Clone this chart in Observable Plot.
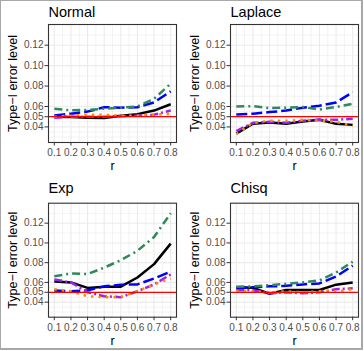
<!DOCTYPE html>
<html><head><meta charset="utf-8">
<script src="https://cdn.jsdelivr.net/npm/d3@7"></script>
<script src="https://cdn.jsdelivr.net/npm/@observablehq/plot@0.6"></script>
<style>
html,body{margin:0;padding:0;background:#fff;}
#wrap{position:relative;width:364px;height:351px;overflow:hidden;font-family:"Liberation Sans",Arial,Helvetica,sans-serif;}
#frame{position:absolute;left:0;top:0;width:363px;height:350px;box-sizing:border-box;border:1px solid #a8a8a8;border-right-width:2px;border-bottom-width:2px;pointer-events:none;}
.panel{position:absolute;}
</style></head><body><div id="wrap"></div>
<script>
const rValues = [0.1, 0.2, 0.3, 0.4, 0.5, 0.6, 0.7, 0.8];
const panelTitles = ["Normal", "Laplace", "Exp", "Chisq"];
const xTicks = [0.1, 0.2, 0.3, 0.4, 0.5, 0.6, 0.7, 0.8];
const xMinor = [0.15, 0.25, 0.35, 0.45, 0.55, 0.65, 0.75];
const yTicks = [0.04, 0.05, 0.06, 0.08, 0.10, 0.12];
const yMinor = [0.03, 0.035, 0.045, 0.055, 0.07, 0.09, 0.11, 0.13, 0.14];
const nominalLevel = 0.05;
const yLabel = "Type\u2212I error level";
const xLabel = "r";

const normalBlack  = [0.0500, 0.0498, 0.0490, 0.0487, 0.0510, 0.0525, 0.0560, 0.0622];
const normalBlue   = [0.0513, 0.0530, 0.0550, 0.0593, 0.0588, 0.0592, 0.0640, 0.0748];
const normalGreen  = [0.0578, 0.0562, 0.0567, 0.0578, 0.0588, 0.0600, 0.0676, 0.0823];
const normalPurple = [0.0490, 0.0500, 0.0500, 0.0500, 0.0505, 0.0510, 0.0520, 0.0560];
const normalOrange = [0.0500, 0.0510, 0.0520, 0.0520, 0.0510, 0.0510, 0.0520, 0.0530];

const laplaceBlack  = [0.0335, 0.0432, 0.0443, 0.0432, 0.0454, 0.0470, 0.0430, 0.0420];
const laplaceBlue   = [0.0522, 0.0530, 0.0545, 0.0560, 0.0588, 0.0608, 0.0640, 0.0740];
const laplaceGreen  = [0.0601, 0.0604, 0.0584, 0.0588, 0.0594, 0.0570, 0.0595, 0.0627];
const laplacePurple = [0.0360, 0.0440, 0.0450, 0.0440, 0.0460, 0.0470, 0.0470, 0.0480];
const laplaceOrange = [0.0330, 0.0440, 0.0460, 0.0460, 0.0470, 0.0460, 0.0450, 0.0410];

const expBlack  = [0.0610, 0.0600, 0.0544, 0.0557, 0.0557, 0.0650, 0.0785, 0.0993];
const expBlue   = [0.0517, 0.0510, 0.0520, 0.0560, 0.0576, 0.0580, 0.0640, 0.0710];
const expGreen  = [0.0663, 0.0690, 0.0685, 0.0750, 0.0825, 0.0920, 0.1060, 0.1300];
const expPurple = [0.0630, 0.0600, 0.0500, 0.0460, 0.0450, 0.0510, 0.0580, 0.0680];
const expOrange = [0.0530, 0.0510, 0.0460, 0.0450, 0.0450, 0.0510, 0.0580, 0.0640];

const chisqBlack  = [0.0550, 0.0545, 0.0485, 0.0523, 0.0523, 0.0523, 0.0577, 0.0600];
const chisqBlue   = [0.0540, 0.0550, 0.0560, 0.0565, 0.0580, 0.0590, 0.0660, 0.0770];
const chisqGreen  = [0.0557, 0.0560, 0.0573, 0.0585, 0.0600, 0.0620, 0.0700, 0.0810];
const chisqPurple = [0.0520, 0.0520, 0.0490, 0.0500, 0.0490, 0.0500, 0.0530, 0.0540];
const chisqOrange = [0.0510, 0.0510, 0.0500, 0.0510, 0.0500, 0.0510, 0.0510, 0.0530];

const panelSeries = [
  [normalBlack, normalBlue, normalGreen, normalPurple, normalOrange],
  [laplaceBlack, laplaceBlue, laplaceGreen, laplacePurple, laplaceOrange],
  [expBlack, expBlue, expGreen, expPurple, expOrange],
  [chisqBlack, chisqBlue, chisqGreen, chisqPurple, chisqOrange]
];

const lineStyles = [
  {stroke: "#000000", dash: null},
  {stroke: "#0000FF", dash: "11,4"},
  {stroke: "#2E8B57", dash: "8,4,2,4"},
  {stroke: "#A020F0", dash: "8,3,2,3"},
  {stroke: "#FF8C00", dash: "2.5,5"}
];

const boxes = [
  {left: 0,   top: 0,   h: 175, mt: 24,   mb: 33,   titleDy: -7.3, rDy: 23},
  {left: 182, top: 0,   h: 175, mt: 24,   mb: 33,   titleDy: -7.3, rDy: 23},
  {left: 0,   top: 175, h: 176, mt: 27.7, mb: 34.3, titleDy: -10,  rDy: 23.5},
  {left: 182, top: 175, h: 176, mt: 27.7, mb: 34.3, titleDy: -10,  rDy: 23.5}
];

const font = "'Liberation Sans', Arial, Helvetica, sans-serif";
const wrap = document.getElementById("wrap");

panelTitles.forEach((title, p) => {
  const box = boxes[p];
  const lineMarks = panelSeries[p].map((vals, s) => {
    const rows = rValues.map((r, i) => ({r, v: vals[i]}));
    return Plot.line(rows, {
      x: "r", y: "v", stroke: lineStyles[s].stroke, strokeWidth: 2.5,
      strokeDasharray: lineStyles[s].dash, strokeLinecap: "butt", strokeLinejoin: "round"
    });
  });
  const svg = Plot.plot({
    width: 182, height: box.h,
    marginLeft: 48, marginRight: 6, marginTop: box.mt, marginBottom: box.mb,
    x: {domain: [0.065, 0.835], axis: null},
    y: {domain: [0.02475, 0.14025], axis: null},
    style: {fontFamily: font, background: "transparent", overflow: "visible", color: "black"},
    marks: [
      Plot.gridX(xMinor, {stroke: "#ebebeb", strokeOpacity: 1, strokeWidth: 0.6}),
      Plot.gridY(yMinor, {stroke: "#ebebeb", strokeOpacity: 1, strokeWidth: 0.6}),
      Plot.gridX(xTicks, {stroke: "#ebebeb", strokeOpacity: 1, strokeWidth: 1.1}),
      Plot.gridY(yTicks, {stroke: "#ebebeb", strokeOpacity: 1, strokeWidth: 1.1}),
      ...lineMarks,
      Plot.ruleY([nominalLevel], {stroke: "#FF0000", strokeWidth: 1.3}),
      Plot.frame({stroke: "#333333", strokeWidth: 1.1}),
      Plot.axisX(xTicks, {tickFormat: d3.format(".1f"), tickSize: 3.5, tickPadding: 3, fontSize: 10, stroke: "#333333", fill: "#4d4d4d", label: null}),
      Plot.axisY(yTicks, {tickFormat: d3.format(".2f"), tickSize: 3.5, tickPadding: 1.5, fontSize: 10, stroke: "#333333", fill: "#4d4d4d", label: null}),
      Plot.text([title], {frameAnchor: "top-left", textAnchor: "start", lineAnchor: "bottom", dy: box.titleDy, fontSize: 14.5, fill: "black"}),
      Plot.text([yLabel], {frameAnchor: "left", textAnchor: "middle", lineAnchor: "middle", rotate: -90, dx: -36, fontSize: 12.5, fill: "black"}),
      Plot.text([xLabel], {frameAnchor: "bottom", textAnchor: "middle", lineAnchor: "middle", dy: box.rDy, fontSize: 12.5, fill: "black"})
    ]
  });
  const div = document.createElement("div");
  div.className = "panel";
  div.style.left = box.left + "px";
  div.style.top = box.top + "px";
  div.appendChild(svg);
  wrap.appendChild(div);
});
const frame = document.createElement("div");
frame.id = "frame";
wrap.appendChild(frame);
</script>
</body></html>
